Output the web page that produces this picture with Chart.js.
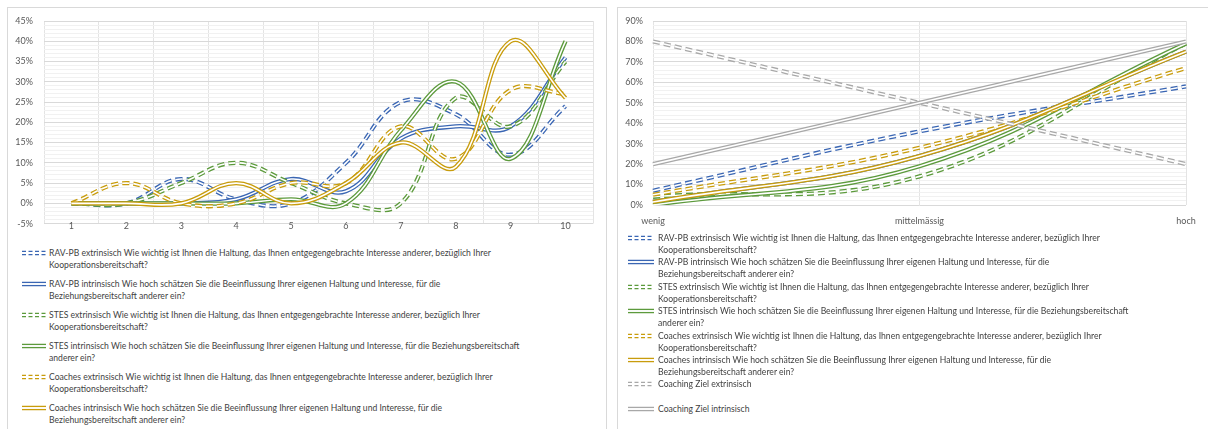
<!DOCTYPE html>
<html>
<head>
<meta charset="utf-8">
<title>Haltung und Interesse – Verteilung</title>
<script src="https://cdn.jsdelivr.net/npm/chart.js@4/dist/chart.umd.min.js"></script>
<style>
  html, body { margin: 0; padding: 0; background: #fff; }
  body { width: 1208px; height: 429px; position: relative; overflow: hidden; font-family: Lato, "Open Sans", sans-serif; }
  .panel { position: absolute; top: 7px; height: 440px; border: 1px solid #d9d9d9; box-sizing: border-box; background: #fff; }
  #panelLeft { left: 7px; width: 600px; }
  #panelRight { left: 617px; width: 600px; }
  .cw { position: absolute; top: 0; height: 240px; }
  #wrapLeft { left: 0; width: 606px; }
  #wrapRight { left: 610px; width: 598px; }
  .leg { position: absolute; font-size: 8.6px; line-height: 12px; color: #3f3f3f; white-space: nowrap; }
  .leg svg { position: absolute; top: 3px; }
</style>
</head>
<body>
<div class="panel" id="panelLeft"></div>
<div class="panel" id="panelRight"></div>
<div class="cw" id="wrapLeft"><canvas id="chartLeft"></canvas></div>
<div class="cw" id="wrapRight"><canvas id="chartRight"></canvas></div>
<div id="legendLeft"></div>
<div id="legendRight"></div>

<script>
// ---- Data -------------------------------------------------------------
// Rating scale 1..10 (left chart), share of answers in %
const scaleCategories = ['1', '2', '3', '4', '5', '6', '7', '8', '9', '10'];
const ravExtScale  = [0, 0, 6, 1, 0, 10, 25, 22, 12, 24];
const ravIntScale  = [0, 0, 0, 1, 6, 3, 16, 19, 19, 36];
const stesExtScale = [0, 0, 5, 10, 5, 0, 0, 26, 19, 35];
const stesIntScale = [0, 0, 0, 0, 1, 0, 18, 30, 11, 40];
const coExtScale   = [0, 5, 0, 0, 5, 5, 19, 11, 28, 27];
const coIntScale   = [0, 0, 0, 5, 0, 5, 15, 9, 40, 26];
const scaleTickValues = [-5, 0, 5, 10, 15, 20, 25, 30, 35, 40, 45];

// Grouped levels (right chart), share of answers in %
const levelCategories = ['wenig', 'mittelmässig', 'hoch'];
const ravExtLevel  = [7, 36, 58];
const ravIntLevel  = [1.5, 24, 75];
const stesExtLevel = [4, 14, 79];
const stesIntLevel = [0, 19, 79];
const coExtLevel   = [5, 28, 67];
const coIntLevel   = [1.5, 24, 75];
const zielExtLevel = [80, 50, 20];
const zielIntLevel = [20, 50, 80];
const levelTickValues = [0, 10, 20, 30, 40, 50, 60, 70, 80, 90];

// Series names, split where the legend wraps them
const seriesLabelLines = [
  ['RAV-PB extrinsisch Wie wichtig ist Ihnen die Haltung, das Ihnen entgegengebrachte Interesse anderer, bezüglich Ihrer', 'Kooperationsbereitschaft?'],
  ['RAV-PB intrinsisch Wie hoch schätzen Sie die Beeinflussung Ihrer eigenen Haltung und Interesse, für die', 'Beziehungsbereitschaft anderer ein?'],
  ['STES extrinsisch Wie wichtig ist Ihnen die Haltung, das Ihnen entgegengebrachte Interesse anderer, bezüglich Ihrer', 'Kooperationsbereitschaft?'],
  ['STES intrinsisch Wie hoch schätzen Sie die Beeinflussung Ihrer eigenen Haltung und Interesse, für die Beziehungsbereitschaft', 'anderer ein?'],
  ['Coaches extrinsisch Wie wichtig ist Ihnen die Haltung, das Ihnen entgegengebrachte Interesse anderer, bezüglich Ihrer', 'Kooperationsbereitschaft?'],
  ['Coaches intrinsisch Wie hoch schätzen Sie die Beeinflussung Ihrer eigenen Haltung und Interesse, für die', 'Beziehungsbereitschaft anderer ein?'],
  ['Coaching Ziel extrinsisch'],
  ['Coaching Ziel intrinsisch']
];

// ---- Styles -----------------------------------------------------------
const BLUE = '#3A66B3', GREEN = '#5C9A3C', GOLD = '#C89C0C', GRAY = '#A8A8A8';
const seriesColors = [BLUE, BLUE, GREEN, GREEN, GOLD, GOLD, GRAY, GRAY];
const seriesDashed = [true, false, true, false, true, false, true, false];
const OUTER_W = 4.2, INNER_W = 1.6, DASH = [7, 4];

const leftSeries = [ravExtScale, ravIntScale, stesExtScale, stesIntScale, coExtScale, coIntScale];
const rightSeries = [ravExtLevel, ravIntLevel, stesExtLevel, stesIntLevel, coExtLevel, coIntLevel, zielExtLevel, zielIntLevel];

function makeDataset(values, i) {
  return {
    label: seriesLabelLines[i].join(' '),
    data: values,
    order: -i,               // later series are painted on top
    borderColor: seriesColors[i],
    backgroundColor: seriesColors[i],
    borderWidth: OUTER_W,
    borderDash: seriesDashed[i] ? DASH : [],
    pointRadius: 0,
    pointHoverRadius: 0,
    fill: false,
    tension: 0.4
  };
}

// Compound "double" stroke: a white core stroked over each line's own path
const doubleLine = {
  id: 'doubleLine',
  afterDatasetDraw(chart, args) {
    const line = args.meta.dataset;
    if (!line || !line.points || !line.points.length) return;
    const ds = chart.data.datasets[args.index];
    const ctx = chart.ctx;
    ctx.save();
    ctx.strokeStyle = '#ffffff';
    ctx.lineWidth = INNER_W;
    ctx.lineCap = 'butt';
    ctx.setLineDash(ds.borderDash || []);
    ctx.lineDashOffset = 0;
    ctx.beginPath();
    line.path(ctx);
    ctx.stroke();
    ctx.restore();
  }
};

const axisFont = { family: 'Lato', size: 9 };
const axisColor = '#595959';

function yScale(min, max, minorStep, majorStep, tickValues, width, pad) {
  return {
    min: min, max: max,
    ticks: {
      stepSize: minorStep, autoSkip: false, padding: pad,
      color: axisColor, font: axisFont,
      callback: v => tickValues.includes(v) ? v + '%' : ''
    },
    grid: {
      drawTicks: false, lineWidth: 1,
      color: c => (c.tick && c.tick.value % majorStep === 0) ? '#d9d9d9' : '#f1f1f1'
    },
    border: { display: false },
    afterFit(s) { s.width = width; }
  };
}

Chart.defaults.font.family = 'Lato';

// ---- Left chart: answers on the 1..10 scale -----------------------------
new Chart(document.getElementById('chartLeft'), {
  type: 'line',
  data: { labels: scaleCategories, datasets: leftSeries.map(makeDataset) },
  options: {
    animation: false, responsive: true, maintainAspectRatio: false,
    layout: { padding: { left: 0, right: 13, top: 21, bottom: 9 } },
    plugins: { legend: { display: false }, tooltip: { enabled: false } },
    scales: {
      x: {
        type: 'category', offset: true, position: { y: 0 },
        grid: { offset: true, color: '#e4e4e4', drawTicks: false },
        border: { display: false },
        ticks: { padding: 17, color: axisColor, font: axisFont, maxRotation: 0, autoSkip: false }
      },
      y: yScale(-5, 45, 1, 5, scaleTickValues, 44, 11)
    }
  },
  plugins: [doubleLine]
});

// ---- Right chart: grouped levels with target lines -----------------------
new Chart(document.getElementById('chartRight'), {
  type: 'line',
  data: { labels: levelCategories, datasets: rightSeries.map(makeDataset) },
  options: {
    animation: false, responsive: true, maintainAspectRatio: false,
    layout: { padding: { left: 0, right: 22, top: 21, bottom: 35 } },
    plugins: { legend: { display: false }, tooltip: { enabled: false } },
    scales: {
      x: {
        type: 'category', offset: false, position: { y: 0 },
        grid: { offset: false, color: '#e4e4e4', drawTicks: false },
        border: { display: false },
        ticks: { padding: 11, color: axisColor, font: axisFont, maxRotation: 0, autoSkip: false }
      },
      y: yScale(0, 90, 2, 10, levelTickValues, 43, 10)
    }
  },
  plugins: [doubleLine]
});

// ---- Legends ------------------------------------------------------------
function swatch(color, dashed, w) {
  const dash = dashed ? ' stroke-dasharray="4 2.5"' : '';
  return '<svg width="' + w + '" height="6" viewBox="0 0 ' + w + ' 6">' +
    '<line x1="0" y1="1.4" x2="' + w + '" y2="1.4" stroke="' + color + '" stroke-width="1.3"' + dash + '/>' +
    '<line x1="0" y1="4.6" x2="' + w + '" y2="4.6" stroke="' + color + '" stroke-width="1.3"' + dash + '/>' +
    '</svg>';
}

function buildLegend(hostId, count, left, top0, step, swLeft, swW) {
  const host = document.getElementById(hostId);
  for (let i = 0; i < count; i++) {
    const d = document.createElement('div');
    d.className = 'leg';
    d.style.left = left + 'px';
    d.style.top = (top0 + step * i) + 'px';
    d.innerHTML = swatch(seriesColors[i], seriesDashed[i], swW) +
      seriesLabelLines[i].map(t => '<span>' + t + '</span>').join('<br>');
    d.querySelector('svg').style.left = swLeft + 'px';
    host.appendChild(d);
  }
}

buildLegend('legendLeft', 6, 49, 247, 31, -27, 24);
buildLegend('legendRight', 8, 658, 232, 24.4, -30, 26);
</script>
</body>
</html>
